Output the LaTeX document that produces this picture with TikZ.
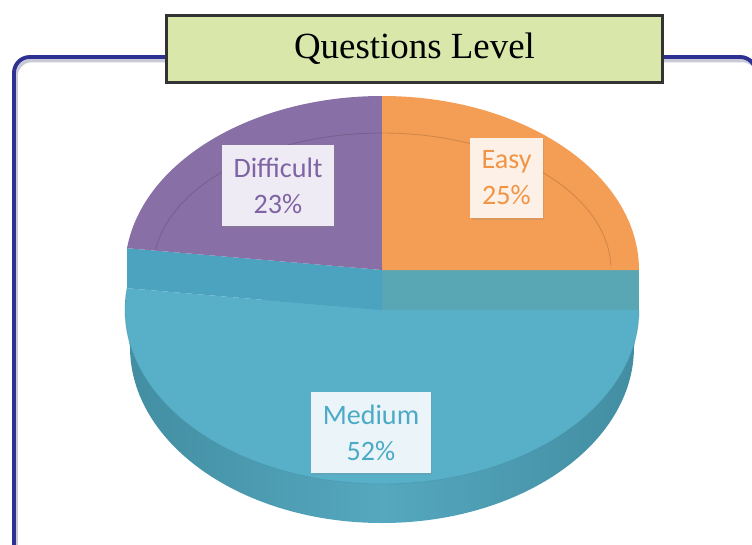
\documentclass[tikz,border=0pt]{standalone}
\usepackage{fontspec}
\setmainfont{Carlito}
\newfontfamily\titlefont{Liberation Serif}
\usetikzlibrary{shadows}

\definecolor{frameblue}{HTML}{2E3192}
\definecolor{framegrey}{HTML}{C9CAD8}
\definecolor{titlegreen}{HTML}{D9E7AB}
\definecolor{titleframe}{HTML}{333333}
\definecolor{diffpurple}{HTML}{8870A6}
\definecolor{easyorange}{HTML}{F49D54}
\definecolor{medblue}{HTML}{58AFC8}
\definecolor{bandleft}{HTML}{4BA3C0}
\definecolor{bandright}{HTML}{59A6B4}
\definecolor{sideblue}{HTML}{55A8BF}
\definecolor{sidedark}{HTML}{428DA1}
\definecolor{difftext}{HTML}{7F64A5}
\definecolor{easytext}{HTML}{F29446}
\definecolor{medtext}{HTML}{4BAAC6}
\definecolor{diffbox}{HTML}{EFEBF4}
\definecolor{easybox}{HTML}{FDF0E6}
\definecolor{medbox}{HTML}{EBF4F8}

\begin{document}
\begin{tikzpicture}[x=0.02cm, y=-0.02cm,
    lbl/.style={font=\fontsize{16}{20.4}\selectfont, align=center, inner xsep=5pt,
      minimum height=46pt, drop shadow={shadow xshift=1pt, shadow yshift=-1pt, opacity=0.2}},
    bevel/.style={line width=0.5pt, opacity=0.35}]
    \useasboundingbox (0,0) rectangle (752,545);
    \clip (0,0) rectangle (752,545);

    % frame
    \draw[framegrey, line width=2pt, rounded corners=9pt] (16,60.5) rectangle (758,580);
    \draw[frameblue, line width=2.2pt, rounded corners=9pt] (14,57) rectangle (756,580);

    % title
    \node[draw=titleframe, fill=titlegreen, line width=1.7pt, minimum width=282pt,
      minimum height=38.6pt, font=\titlefont\fontsize{21}{25}\selectfont]
      (title) at (414.5,49) {Questions Level};

    % side of the pie
    \shade[left color=sidedark, right color=sidedark, middle color=sideblue]
      (639,300) -- (634,347) arc[start angle=0, end angle=180, x radius=252, y radius=176]
      -- (125,300) -- cycle;

    % medium
    \fill[medblue] (382,310) -- (639,310)
      arc[start angle=0, end angle=187.2, x radius=257, y radius=174] -- cycle;
    \draw[sidedark, bevel] (639,310) arc[start angle=0, end angle=187.2, x radius=257, y radius=174];

    % band
    \fill[bandright] (382,270) -- (639,270) -- (639,310) -- (382,310) -- cycle;
    \fill[bandleft] (382,270) -- (127,248.2) -- (127,288.2) -- (382,310) -- cycle;

    % easy
    \fill[easyorange] (382,270) -- (382,96)
      arc[start angle=270, end angle=360, x radius=257, y radius=174] -- cycle;
    \draw[black!40!easyorange, bevel] ([shift={(270:229 and 137)}]382,270)
      arc[start angle=270, end angle=358, x radius=229, y radius=137];

    % difficult
    \fill[diffpurple] (382,270) -- (127,248.2)
      arc[start angle=187.2, end angle=270, x radius=257, y radius=174] -- cycle;
    \draw[black!40!diffpurple, bevel] ([shift={(188:229 and 137)}]382,270)
      arc[start angle=188, end angle=270, x radius=229, y radius=137];

    % labels
    \node[lbl, fill=diffbox, text=difftext, minimum width=63.5pt] (difficult) at (278,185.5) {Difficult\\23\%};
    \node[lbl, fill=easybox, text=easytext, minimum width=41pt] (easy) at (506.5,178) {Easy\\25\%};
    \node[lbl, fill=medbox, text=medtext, minimum width=68pt] (medium) at (371,432.5) {Medium\\52\%};
\end{tikzpicture}
\end{document}
